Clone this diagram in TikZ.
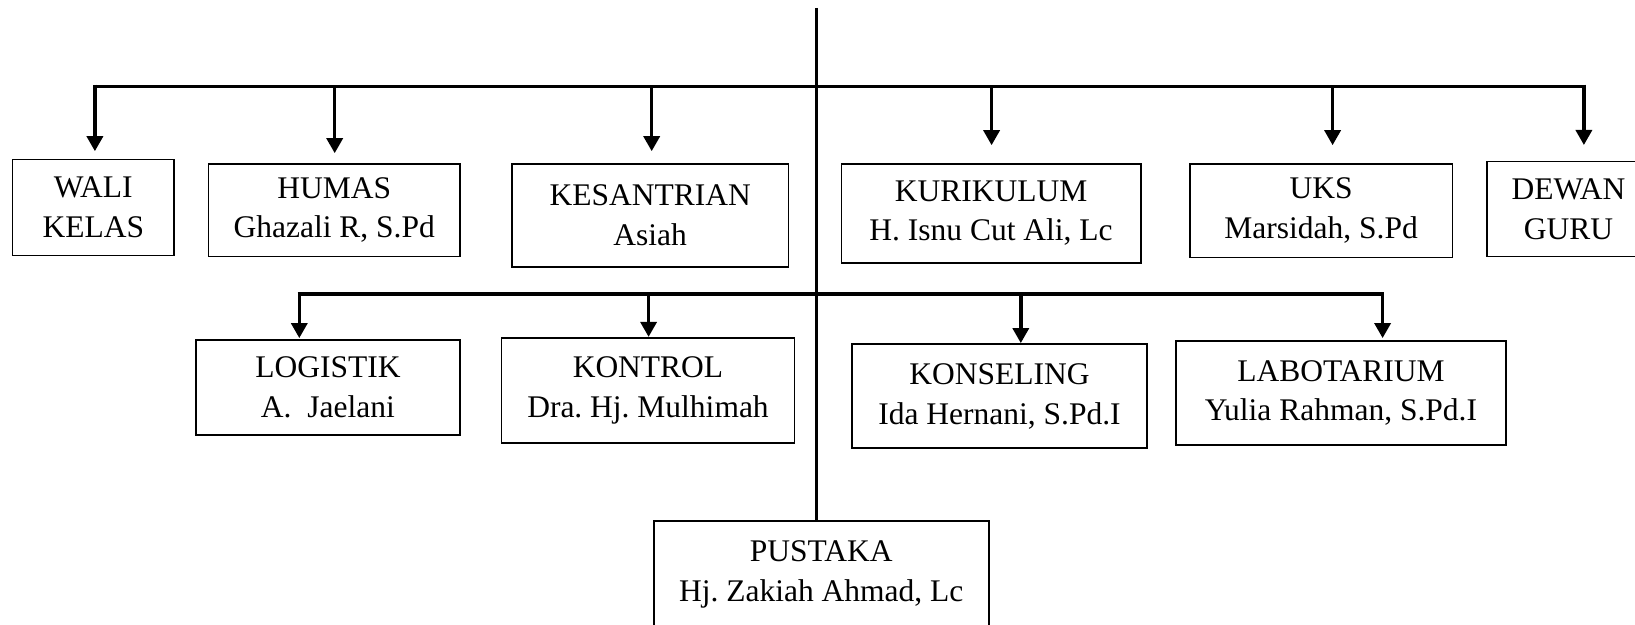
\documentclass[tikz,border=0pt]{standalone}
\usepackage{fontspec}
\setmainfont{Liberation Serif}
\usetikzlibrary{arrows.meta}
\begin{document}
\frenchspacing
\begin{tikzpicture}[x=0.5pt,y=-0.5pt,
  bx/.style={draw, line width=0.9pt, inner sep=0pt, align=center,
    font=\fontsize{15.75pt}{19.8pt}\selectfont},
  hline/.style={line width=1.8pt},
  vline/.style={line width=1.9pt},
  arr/.style={line width=1.7pt, -{Triangle[width=8pt,length=7.5pt]}}]
\useasboundingbox (0,0) rectangle (1635,625);
\clip (0,0) rectangle (1635,625);
% boxes
\node[bx, minimum width=80.8pt, minimum height=48pt] (wali) at (93.3,207.5) {WALI\\KELAS};
\node[bx, minimum width=125.7pt, minimum height=46.4pt] (humas) at (334.2,210.1) {HUMAS\\Ghazali R, S.Pd};
\node[bx, minimum width=138.2pt, minimum height=51.6pt] (kes) at (650.2,215.3) {KESANTRIAN\\Asiah};
\node[bx, minimum width=149.6pt, minimum height=49.6pt] (kur) at (991.1,213.3) {KURIKULUM\\H. Isnu Cut Ali, Lc};
\node[bx, minimum width=131.4pt, minimum height=46.9pt] (uks) at (1321.1,210.6) {UKS\\Marsidah, S.Pd};
\node[bx, minimum width=81.5pt, minimum height=47.5pt] (dewan) at (1568.5,209) {DEWAN\\GURU};
\node[bx, minimum width=131.9pt, minimum height=47.4pt] (log) at (327.9,387.4) {LOGISTIK\\A.\ \ Jaelani};
\node[bx, minimum width=146.5pt, minimum height=52.7pt] (kon) at (648,390.5) {KONTROL\\Dra. Hj. Mulhimah};
\node[bx, minimum width=147.6pt, minimum height=52.2pt] (kons) at (999.5,396.2) {KONSELING\\Ida Hernani, S.Pd.I};
\node[bx, minimum width=164.8pt, minimum height=52.1pt] (lab) at (1341,393.1) {LABOTARIUM\\Yulia Rahman, S.Pd.I};
\node[bx, minimum width=167.4pt, minimum height=53.3pt] (pus) at (821.2,574.7) {PUSTAKA\\Hj. Zakiah Ahmad, Lc};
% main vertical line
\coordinate (top) at (816.4,8);
\draw[vline] (top) -- (top |- pus.north);
% top row
\coordinate (a1) at (94.9,86.5);
\coordinate (a2) at (334.7,86.5);
\coordinate (a3) at (651.7,86.5);
\coordinate (a4) at (991.6,86.5);
\coordinate (a5) at (1332.6,86.5);
\coordinate (a6) at (1583.9,86.5);
\draw[hline] ([xshift=-0.85pt]a1) -- ([xshift=0.85pt]a6);
\draw[arr, shorten >=3.7pt] ([yshift=0.9pt]a1) -- (a1 |- wali.north);
\draw[arr, shorten >=4.8pt] (a2) -- (a2 |- humas.north);
\draw[arr, shorten >=5.8pt] (a3) -- (a3 |- kes.north);
\draw[arr, shorten >=8.8pt] (a4) -- (a4 |- kur.north);
\draw[arr, shorten >=8.8pt] (a5) -- (a5 |- uks.north);
\draw[arr, shorten >=7.8pt] ([yshift=0.9pt]a6) -- (a6 |- dewan.north);
% second row
\coordinate (b1) at (299.3,294);
\coordinate (b2) at (648.6,294);
\coordinate (b3) at (1020.8,294);
\coordinate (b4) at (1382.6,294);
\draw[hline] ([xshift=-0.85pt]b1) -- ([xshift=0.85pt]b4);
\draw[arr, shorten >=0.5pt] ([yshift=0.9pt]b1) -- (b1 |- log.north);
\draw[arr] (b2) -- (b2 |- kon.north);
\draw[arr] (b3) -- (b3 |- kons.north);
\draw[arr, shorten >=1pt] ([yshift=0.9pt]b4) -- (b4 |- lab.north);
\end{tikzpicture}
\end{document}
